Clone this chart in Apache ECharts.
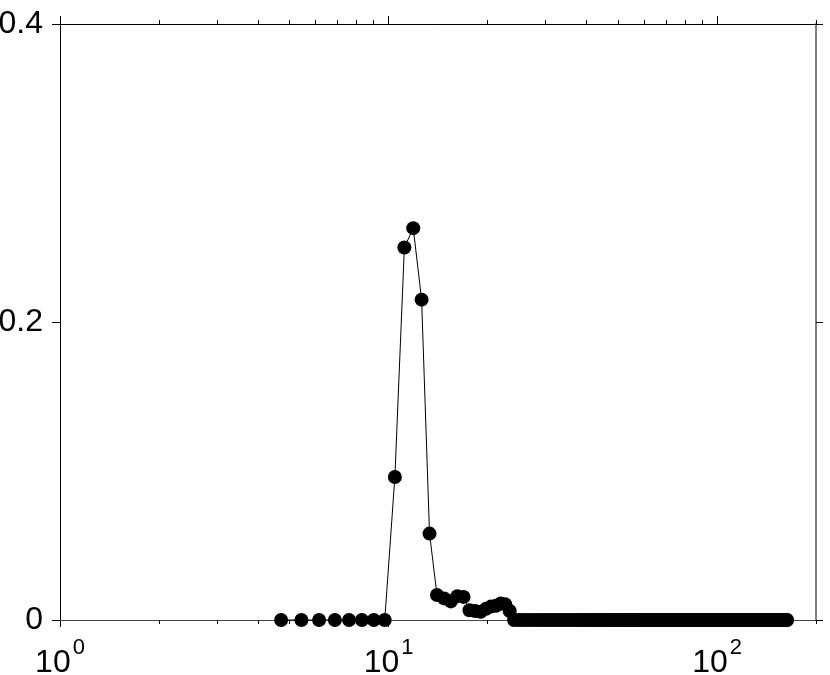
<!DOCTYPE html>
<html>
<head>
<meta charset="utf-8">
<script src="https://cdn.jsdelivr.net/npm/echarts@6/dist/echarts.min.js"></script>
<style>
  html, body { margin: 0; padding: 0; background: #fff; }
  #chart { width: 830px; height: 675px; }
</style>
</head>
<body>
<div id="chart"></div>
<script>
// x grid: evenly spaced sample positions
const xStart = 4.71;
const xStep = 0.718;

// y values, one per sample
const yValues = [
  0, 0, 0, 0, 0, 0, 0, 0,
  0.096, 0.250, 0.263, 0.215, 0.058, 0.0168,
  0.0145, 0.0125, 0.0160, 0.0155, 0.0065, 0.0060, 0.0055, 0.0075, 0.0090, 0.0095, 0.0110, 0.0105, 0.0060,
  0,0,0,0,0,0,0,0,0,0,0,0,0,0,0,
  0,0,0,0,0,0,0,0,0,0,0,0,0,0,0,
  0,0,0,0,0,0,0,0,0,0,0,0,0,0,0,
  0,0,0,0,0,0,0,0,0,0,0,0,0,0,0,
  0,0,0,0,0,0,0,0,0,0,0,0,0,0,0,
  0,0,0,0,0,0,0,0,0,0,0,0,0,0,0,
  0,0,0,0,0,0,0,0,0,0,0,0,0,0,0,
  0,0,0,0,0,0,0,0,0,0,0,0,0,0,0,
  0,0,0,0,0,0,0,0,0,0,0,0,0,0,0,
  0,0,0,0,0,0,0,0,0,0,0,0,0,0,0,
  0,0,0,0,0,0,0,0,0,0,0,0,0,0,0,
  0,0,0,0,0,0,0,0,0,0,0,0,0,0,0,
  0,0,0,0,0,0,0,0,0,0,0,0,0,0,0
];

// axis ticks / labels
const xMajorTicks = [1, 10, 100];
const xMajorExp = ['0', '1', '2'];
const xMinorTicks = [2, 3, 4, 5, 6, 7, 8, 9, 20, 30, 40, 50, 60, 70, 80, 90, 200];
const yTicks = [0, 0.2, 0.4];

const FONT = '"Liberation Sans", Arial, Helvetica, sans-serif';

const points = yValues.map((y, i) => [xStart + xStep * i, y]);

const baseX = { type: 'log', logBase: 10, min: 1, max: 200, gridIndex: 0, splitLine: { show: false }, minorTick: { show: false } };

const chart = echarts.init(document.getElementById('chart'), null, { renderer: 'canvas' });
chart.setOption({
  animation: false,
  backgroundColor: '#ffffff',
  grid: { left: 60, right: 14, top: 24, bottom: 55, containLabel: false, outerBoundsMode: 'none' },
  xAxis: [
    Object.assign({}, baseX, {
      position: 'bottom',
      axisLine: { show: true, lineStyle: { color: '#444', width: 1 } },
      axisTick: { show: true, inside: false, length: 7, customValues: xMajorTicks, lineStyle: { color: '#000', width: 1 } },
      axisLabel: {
        show: true,
        customValues: xMajorTicks,
        margin: 17,
        fontFamily: FONT,
        color: '#000',
        formatter: function (v) {
          const k = xMajorTicks.indexOf(Math.round(v));
          return '{b|10}{s|' + (k >= 0 ? xMajorExp[k] : '') + '}';
        },
        rich: {
          b: { fontSize: 32, lineHeight: 42, verticalAlign: 'bottom', fontFamily: FONT, color: '#000' },
          s: { fontSize: 22, lineHeight: 20, verticalAlign: 'top', fontFamily: FONT, color: '#000', padding: [0, 0, 0, 2] }
        }
      }
    }),
    Object.assign({}, baseX, {
      position: 'bottom',
      axisLine: { show: false },
      axisTick: { show: true, inside: false, length: 4, customValues: xMinorTicks, lineStyle: { color: '#000', width: 1 } },
      axisLabel: { show: false }
    }),
    Object.assign({}, baseX, {
      position: 'top',
      axisLine: { show: true, lineStyle: { color: '#000', width: 1 } },
      axisTick: { show: true, inside: false, length: 8, customValues: xMajorTicks, lineStyle: { color: '#000', width: 1 } },
      axisLabel: { show: false }
    }),
    Object.assign({}, baseX, {
      position: 'top',
      axisLine: { show: false },
      axisTick: { show: true, inside: false, length: 4, customValues: xMinorTicks, lineStyle: { color: '#000', width: 1 } },
      axisLabel: { show: false }
    })
  ],
  yAxis: [
    {
      type: 'value', min: 0, max: 0.4, interval: 0.2, position: 'left',
      splitLine: { show: false },
      axisLine: { show: true, lineStyle: { color: '#000', width: 1 } },
      axisTick: { show: true, inside: false, length: 8, customValues: yTicks, lineStyle: { color: '#000', width: 1 } },
      axisLabel: {
        show: true, customValues: yTicks, margin: 17, fontSize: 32, fontFamily: FONT, color: '#000',
        padding: [5, 0, 0, 0],
        formatter: function (v) { return String(Math.round(v * 10) / 10); }
      }
    },
    {
      type: 'value', min: 0, max: 0.4, interval: 0.2, position: 'right',
      splitLine: { show: false },
      axisLine: { show: true, lineStyle: { color: '#808080', width: 2 } },
      axisTick: { show: true, inside: false, length: 7, customValues: yTicks, lineStyle: { color: '#000', width: 1 } },
      axisLabel: { show: false }
    }
  ],
  series: [
    {
      type: 'line',
      xAxisIndex: 0,
      yAxisIndex: 0,
      data: points,
      clip: false,
      symbol: 'circle',
      symbolSize: 14,
      showAllSymbol: true,
      itemStyle: { color: '#000' },
      lineStyle: { color: '#000', width: 1 },
      emphasis: { disabled: true },
      z: 5
    }
  ]
});
</script>
</body>
</html>
